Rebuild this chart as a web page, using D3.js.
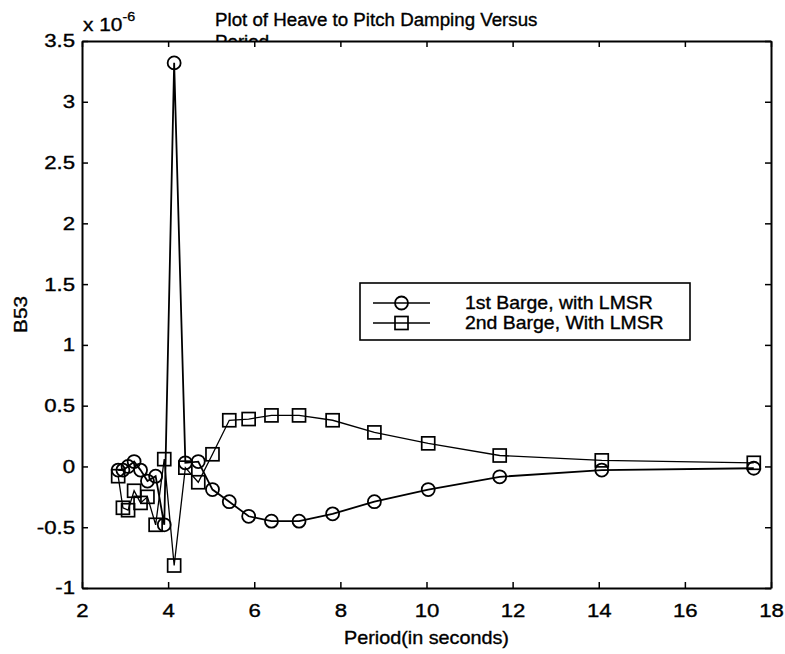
<!DOCTYPE html>
<html><head><meta charset="utf-8">
<script src="https://cdn.jsdelivr.net/npm/d3@7"></script>
<style>body{margin:0;background:#fff}svg{display:block}</style>
</head><body><svg id="c" width="785" height="654"></svg>
<script>
// ---- data (values in units of 1e-6) ----
const period = [2.84, 2.95, 3.07, 3.21, 3.36, 3.52, 3.71, 3.91, 4.14, 4.40, 4.70, 5.03, 5.42, 5.87, 6.40, 7.04, 7.82, 8.79, 10.04, 11.70, 14.07, 17.60];
const barge1 = [-0.03, -0.03, 0.00, 0.04, -0.03, -0.12, -0.08, -0.48, 3.32, 0.03, 0.04, -0.19, -0.29, -0.41, -0.45, -0.45, -0.39, -0.29, -0.19, -0.085, -0.03, -0.015];
const barge2 = [-0.08, -0.34, -0.36, -0.20, -0.30, -0.25, -0.48, 0.06, -0.815, -0.01, -0.13, 0.10, 0.38, 0.39, 0.42, 0.42, 0.38, 0.28, 0.19, 0.09, 0.05, 0.03];
const xTicks = [2, 4, 6, 8, 10, 12, 14, 16, 18];
const yTicks = [-1, -0.5, 0, 0.5, 1, 1.5, 2, 2.5, 3, 3.5];
const seriesNames = ["1st Barge, with LMSR", "2nd Barge, With LMSR"];
const titleLines = ["Plot of Heave to Pitch Damping Versus", "Period"];
const xLabel = "Period(in seconds)";
const yLabel = "B53";

// ---- layout ----
const L = 82, R = 771, T = 41, B = 588;
const FONT = "'Liberation Sans', Arial, Helvetica, sans-serif";
const svg = d3.select("#c");

const x = d3.scaleLinear().domain([2, 18]).range([L, R]);
const y = d3.scaleLinear().domain([-1, 3.5]).range([B, T]);

function stretch(sel, sx) {
  sel.each(function () {
    const t = d3.select(this);
    const tx = +t.attr("x") || 0, ty = +t.attr("y") || 0;
    t.attr("transform", `translate(${tx},${ty}) scale(${sx},1) translate(${-tx},${-ty})`);
  });
}
function ink(sel) { sel.attr("fill", "#000").attr("stroke", "#000").attr("stroke-width", 0.35); }

// title (second line hidden under axes)
const title = svg.append("g").attr("font-family", FONT).attr("font-size", 18);
title.append("text").attr("x", 215).attr("y", 26).text(titleLines[0]);
title.append("text").attr("x", 215).attr("y", 48).text(titleLines[1]);
ink(title.selectAll("text"));
stretch(title.selectAll("text"), 1.04);

// plot background
svg.append("rect").attr("x", L).attr("y", T).attr("width", R - L).attr("height", B - T).attr("fill", "#fff");

// exponent label
const ex = svg.append("text").attr("font-family", FONT).attr("x", 83).attr("y", 31).attr("font-size", 19);
ex.append("tspan").text("x 10");
ex.append("tspan").attr("font-size", 13).attr("dy", -10).text("-6");
ink(ex); stretch(ex, 1.1);

// axes
function styleAxis(g) {
  g.select(".domain").attr("stroke", "#000").attr("stroke-width", 2);
  g.selectAll(".tick line").attr("stroke", "#000").attr("stroke-width", 1.5);
  g.selectAll("text").attr("font-family", FONT).attr("font-size", 18.5);
  ink(g.selectAll("text"));
}
const fmt = d => String(d);
const gx = svg.append("g").attr("transform", `translate(0,${B})`)
  .call(d3.axisBottom(x).tickValues(xTicks).tickSizeInner(-6).tickSizeOuter(0).tickPadding(16).tickFormat(fmt));
styleAxis(gx); stretch(gx.selectAll("text"), 1.2);
const gy = svg.append("g").attr("transform", `translate(${L},0)`)
  .call(d3.axisLeft(y).tickValues(yTicks).tickSizeInner(-6).tickSizeOuter(0).tickPadding(13).tickFormat(fmt));
styleAxis(gy);
gy.selectAll("text").attr("x", -7); stretch(gy.selectAll("text"), 1.2);
const gt = svg.append("g").attr("transform", `translate(0,${T})`)
  .call(d3.axisTop(x).tickValues(xTicks).tickSizeInner(-6).tickSizeOuter(0).tickFormat(""));
styleAxis(gt);
const gr = svg.append("g").attr("transform", `translate(${R},0)`)
  .call(d3.axisRight(y).tickValues(yTicks).tickSizeInner(-6).tickSizeOuter(0).tickFormat(""));
styleAxis(gr);

// axis labels
const xl = svg.append("text").attr("font-family", FONT).attr("font-size", 18).attr("text-anchor", "middle")
  .attr("x", (L + R) / 2).attr("y", 644).text(xLabel);
ink(xl); stretch(xl, 1.1);
const yl = svg.append("text").attr("font-family", FONT).attr("font-size", 18).attr("text-anchor", "middle")
  .attr("transform", `translate(27,${(T + B) / 2}) rotate(-90) scale(1.15,1)`).text(yLabel);
ink(yl);

// series
const line = d3.line().x(d => x(d[0])).y(d => y(d[1]));
const s1 = period.map((p, i) => [p, barge1[i]]);
const s2 = period.map((p, i) => [p, barge2[i]]);
const plot = svg.append("g");
plot.append("path").datum(s1).attr("d", line).attr("fill", "none").attr("stroke", "#000").attr("stroke-width", 1.8);
plot.append("path").datum(s2).attr("d", line).attr("fill", "none").attr("stroke", "#000").attr("stroke-width", 1.3);
plot.selectAll("circle.m").data(s1).join("circle").attr("class", "m")
  .attr("cx", d => x(d[0])).attr("cy", d => y(d[1])).attr("r", 6.5)
  .attr("fill", "none").attr("stroke", "#000").attr("stroke-width", 1.8);
plot.selectAll("rect.m").data(s2).join("rect").attr("class", "m")
  .attr("x", d => x(d[0]) - 6.5).attr("y", d => y(d[1]) - 6.5).attr("width", 13).attr("height", 13)
  .attr("fill", "none").attr("stroke", "#000").attr("stroke-width", 1.7);

// legend
const lg = svg.append("g");
lg.append("rect").attr("x", 360).attr("y", 283).attr("width", 330).attr("height", 57)
  .attr("fill", "#fff").attr("stroke", "#000").attr("stroke-width", 1.6);
const rows = [303, 323];
rows.forEach((ry, i) => {
  lg.append("line").attr("x1", 373).attr("x2", 430).attr("y1", ry).attr("y2", ry).attr("stroke", "#000").attr("stroke-width", 1.6);
  if (i === 0) lg.append("circle").attr("cx", 401.5).attr("cy", ry).attr("r", 6.5).attr("fill", "none").attr("stroke", "#000").attr("stroke-width", 1.8);
  else lg.append("rect").attr("x", 395).attr("y", ry - 6.5).attr("width", 13).attr("height", 13).attr("fill", "none").attr("stroke", "#000").attr("stroke-width", 1.7);
  const t = lg.append("text").attr("font-family", FONT).attr("font-size", 18).attr("x", 465).attr("y", ry + 6.5).text(seriesNames[i]);
  ink(t); stretch(t, 1.08);
});
</script>
</body></html>
